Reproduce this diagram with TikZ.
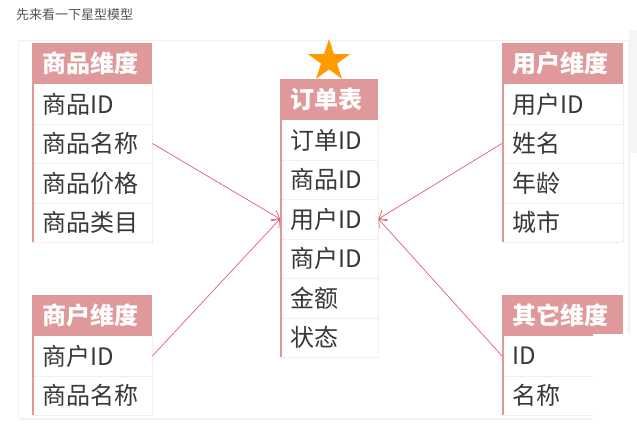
\documentclass[tikz,border=0pt]{standalone}
\usepackage{fontspec}
\setmainfont{Noto Sans CJK SC}
\usetikzlibrary{shapes.geometric,arrows.meta}
\definecolor{hdrpink}{HTML}{E0999A}
\definecolor{linepink}{HTML}{E06070}
\definecolor{seppink}{HTML}{F6E0E2}
\definecolor{txt}{HTML}{383838}
\definecolor{starorange}{HTML}{FF9A00}
\definecolor{titlegray}{HTML}{555555}
\newcommand\dimtable[7]{%
  \node[hdr, text width=#4] (#1h) at (#2,#3) {#6};
  \foreach \t [count=\i] in {#7} {
    \node[cell, text width=#4] (#1\i) at ({#2},{#3+41+(\i-1)*39.5}) {\t};
    \draw[sep] (#1\i.south west) -- (#1\i.south east);
  }
  \draw[sep] (#1h.south east) -- (#1#5.south east);
  \draw[lb] ([xshift=1pt]#1h.south west) -- ([xshift=1pt]#1#5.south west);
}
\begin{document}
\begin{tikzpicture}[x=1pt,y=-1pt,
  hdr/.style={anchor=north west, fill=hdrpink, text=white, font=\fontsize{24}{26}\selectfont\bfseries, minimum height=41pt, inner xsep=10pt, inner ysep=0pt, align=left},
  cell/.style={anchor=north west, text=txt, font=\fontsize{24}{26}\selectfont, minimum height=39.5pt, inner xsep=10pt, inner ysep=0pt, align=left},
  sep/.style={seppink, densely dotted, line width=0.6pt},
  lb/.style={hdrpink, line width=2pt},
  link/.style={linepink, line width=0.7pt, -{Straight Barb[length=7pt,width=11pt]}},
  panel/.style={fill=white, draw=black!5, line width=0.6pt}]
\useasboundingbox (0,0) rectangle (637,439);
% card
\fill[black!5] (20,42) rectangle (630,420);
\path[panel] (18,40) rectangle (628,418);
\fill[black!4] (629,30) rectangle (637,153);
% title
\node[anchor=west, text=titlegray, font=\fontsize{13}{15}\selectfont, inner sep=0pt] (title) at (16,15) {先来看一下星型模型};
% tables
\dimtable{g}{32}{43}{100pt}{4}{商品维度}{商品ID,商品名称,商品价格,商品类目}
\dimtable{o}{280}{79}{78pt}{6}{订单表}{订单ID,商品ID,用户ID,商户ID,金额,状态}
\dimtable{u}{502}{43}{101pt}{4}{用户维度}{用户ID,姓名,年龄,城市}
\dimtable{m}{32}{295}{100pt}{2}{商户维度}{商户ID,商品名称}
\dimtable{x}{502}{295}{101pt}{2}{其它维度}{ID,名称}
% overlay at bottom right
\fill[white] (593,334) rectangle (637,439);
% star
\node[star, star points=5, star point ratio=2.618, fill=starorange, minimum size=44pt, inner sep=0pt] (star) at (329,61) {};
% links
\draw[link] (g2.east) -- (o3.west);
\draw[link] (m1.east) -- (o3.west);
\draw[link] (u2.west) -- (o3.east);
\draw[link] (x1.west) -- (o3.east);
\end{tikzpicture}
\end{document}
